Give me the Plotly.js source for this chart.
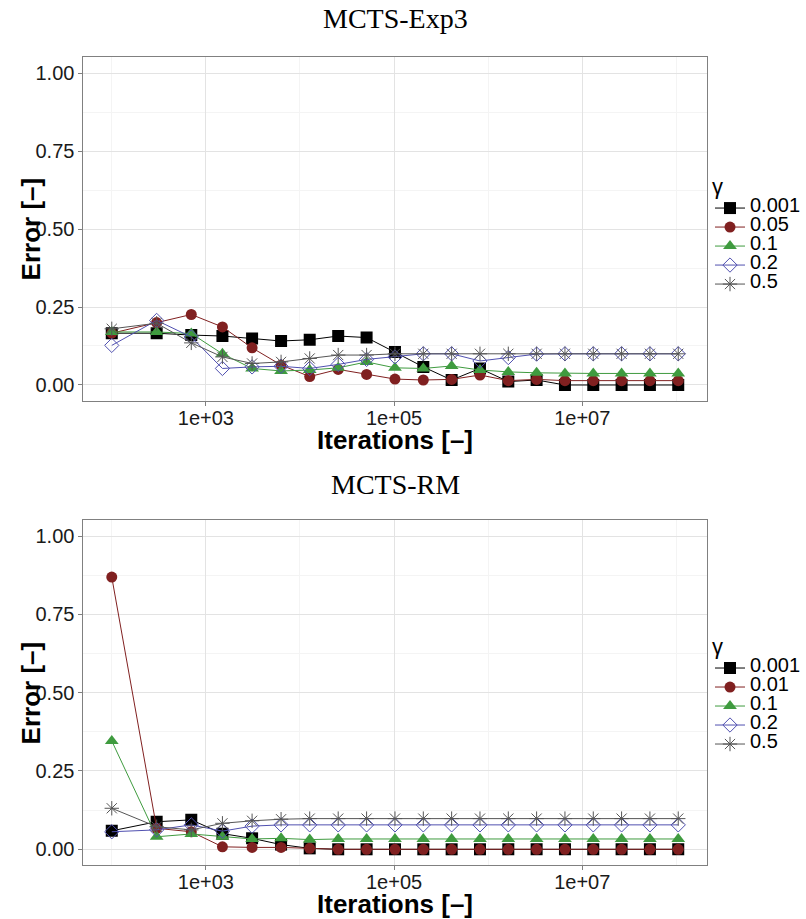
<!DOCTYPE html>
<html>
<head>
<meta charset="utf-8">
<script src="https://cdn.plot.ly/plotly-3.0.1.min.js"></script>
<style>html,body{margin:0;padding:0;background:#fff;}#chart{width:806px;height:919px;}</style>
</head>
<body>
<div id="chart"></div>
<script>
// Iterations (x values, shared by both panels)
const iterations = [100, 300, 700, 1500, 3100, 6300, 12700, 25500, 51100, 102300,
  204700, 409500, 819100, 1638300, 3276700, 6553500, 13107100, 26214300, 52428700, 104857500];

// MCTS-Exp3 panel
const exp3Labels = ["0.001", "0.05", "0.1", "0.2", "0.5"];
const exp3_g0001 = [0.166, 0.166, 0.160, 0.157, 0.149, 0.141, 0.145, 0.157, 0.152, 0.106, 0.058, 0.016, 0.053, 0.011, 0.016, 0.0, 0.0, 0.0, 0.0, 0.0];
const exp3_g005 = [0.166, 0.200, 0.226, 0.186, 0.119, 0.064, 0.027, 0.050, 0.034, 0.019, 0.016, 0.018, 0.032, 0.014, 0.018, 0.014, 0.014, 0.014, 0.014, 0.014];
const exp3_g01 = [0.170, 0.170, 0.165, 0.100, 0.053, 0.045, 0.048, 0.055, 0.074, 0.055, 0.053, 0.061, 0.048, 0.042, 0.039, 0.037, 0.037, 0.037, 0.037, 0.037];
const exp3_g02 = [0.127, 0.207, 0.154, 0.053, 0.058, 0.060, 0.053, 0.066, 0.082, 0.090, 0.100, 0.100, 0.077, 0.088, 0.099, 0.100, 0.100, 0.100, 0.100, 0.100];
const exp3_g05 = [0.180, 0.198, 0.135, 0.090, 0.069, 0.074, 0.085, 0.096, 0.096, 0.100, 0.100, 0.100, 0.100, 0.100, 0.100, 0.100, 0.100, 0.100, 0.100, 0.100];

// MCTS-RM panel
const rmLabels = ["0.001", "0.01", "0.1", "0.2", "0.5"];
const rm_g0001 = [0.059, 0.088, 0.094, 0.050, 0.035, 0.015, 0.003, 0.0, 0.0, 0.0, 0.0, 0.0, 0.0, 0.0, 0.0, 0.0, 0.0, 0.0, 0.0, 0.0];
const rm_g001 = [0.869, 0.067, 0.056, 0.008, 0.006, 0.006, 0.003, 0.0, 0.0, 0.0, 0.0, 0.0, 0.0, 0.0, 0.0, 0.0, 0.0, 0.0, 0.0, 0.0];
const rm_g01 = [0.346, 0.040, 0.049, 0.040, 0.033, 0.035, 0.031, 0.033, 0.033, 0.033, 0.033, 0.033, 0.033, 0.033, 0.033, 0.033, 0.033, 0.033, 0.033, 0.033];
const rm_g02 = [0.056, 0.062, 0.078, 0.058, 0.074, 0.078, 0.078, 0.078, 0.078, 0.078, 0.078, 0.078, 0.078, 0.078, 0.078, 0.078, 0.078, 0.078, 0.078, 0.078];
const rm_g05 = [0.131, 0.072, 0.062, 0.083, 0.091, 0.096, 0.098, 0.098, 0.098, 0.098, 0.098, 0.098, 0.098, 0.098, 0.098, 0.098, 0.098, 0.098, 0.098, 0.098];

const xTickVals = [1e3, 1e5, 1e7];
const xTickText = ["1e+03", "1e+05", "1e+07"];
const yTickVals = [0, 0.25, 0.5, 0.75, 1.0];
const yTickText = ["0.00", "0.25", "0.50", "0.75", "1.00"];

const styles = [
  {color: "#000000", symbol: "square", size: 12, lw: 0},
  {color: "#802020", symbol: "circle", size: 11, lw: 0},
  {color: "#3f9b3f", symbol: "triangle-up", size: 12, lw: 0},
  {color: "#5050b0", symbol: "diamond-open", size: 11, lw: 1},
  {color: "#555555", symbol: "asterisk-open", size: 12, lw: 1}
];

function mk(ys, label, i, xa, ya, leg) {
  const s = styles[i];
  return {
    x: iterations, y: ys, xaxis: xa, yaxis: ya, legend: leg,
    type: "scatter", mode: "lines+markers",
    name: '<span style="font-size:20px">' + label + '</span>',
    line: {color: s.color, width: 1},
    marker: {symbol: s.symbol, size: s.size, color: s.color, line: {color: s.color, width: s.lw}},
    hoverinfo: "x+y"
  };
}

const exp3Series = [exp3_g0001, exp3_g005, exp3_g01, exp3_g02, exp3_g05];
const rmSeries = [rm_g0001, rm_g001, rm_g01, rm_g02, rm_g05];
const data = [];
exp3Series.forEach((ys, i) => data.push(mk(ys, exp3Labels[i], i, "x", "y", "legend")));
rmSeries.forEach((ys, i) => data.push(mk(ys, rmLabels[i], i, "x2", "y2", "legend2")));

const tickFont = {family: "Liberation Sans, Arial, sans-serif", size: 20, color: "#1a1a1a"};
function xaxis(anchor) {
  return {
    type: "log", range: [1.699, 8.322], domain: [0.1055, 0.8933], anchor: anchor,
    tickmode: "array", tickvals: xTickVals, ticktext: xTickText,
    showgrid: true, gridcolor: "#e3e3e3", gridwidth: 1,
    minor: {tickmode: "array", tickvals: [1e2, 1e4, 1e6, 1e8], showgrid: true, gridcolor: "#f4f4f4", ticks: ""},
    showline: true, mirror: true, linecolor: "#808080", linewidth: 1,
    ticks: "outside", ticklen: 4, tickcolor: "#808080", tickfont: tickFont,
    ticklabelstandoff: -5,
    zeroline: false, fixedrange: true
  };
}
function yaxis(anchor, dom) {
  return {
    range: [-0.05, 1.05], domain: dom, anchor: anchor,
    tickmode: "array", tickvals: yTickVals, ticktext: yTickText,
    showgrid: true, gridcolor: "#e3e3e3", gridwidth: 1,
    minor: {tickmode: "array", tickvals: [0.125, 0.375, 0.625, 0.875], showgrid: true, gridcolor: "#f4f4f4", ticks: ""},
    showline: true, mirror: true, linecolor: "#808080", linewidth: 1,
    ticks: "outside", ticklen: 4, tickcolor: "#808080", tickfont: tickFont,
    zeroline: false, fixedrange: true
  };
}

const titleFont = {family: "Liberation Serif, Times New Roman, serif", size: 28, color: "#000"};
const axTitleFont = {family: "Liberation Sans, Arial, sans-serif", size: 26, color: "#000", weight: "bold"};
function ann(text, x, y, font, angle) {
  return {text: text, x: x, y: y, xref: "paper", yref: "paper", xanchor: "center", yanchor: "middle",
          showarrow: false, font: font, textangle: angle || 0};
}

function legendCfg(ytop) {
  return {
    x: 0.898, xanchor: "left", y: ytop, yanchor: "top",
    title: {text: "γ", font: {family: "Liberation Sans, Arial, sans-serif", size: 22, color: "#000"}},
    font: {family: "Liberation Sans, Arial, sans-serif", size: 11, color: "#000"},
    bgcolor: "rgba(0,0,0,0)", borderwidth: 0, itemwidth: 30, tracegroupgap: 0
  };
}

const layout = {
  width: 806, height: 919,
  margin: {l: 0, r: 0, t: 0, b: 0},
  paper_bgcolor: "#ffffff", plot_bgcolor: "#ffffff",
  showlegend: true,
  xaxis: xaxis("y"), yaxis: yaxis("x", [0.5641, 0.9375]),
  xaxis2: xaxis("y2"), yaxis2: yaxis("x2", [0.0588, 0.4337]),
  legend: legendCfg(0.8205),
  legend2: legendCfg(0.320),
  annotations: [
    ann("MCTS-Exp3", 0.4994, 1 - 19 / 919, titleFont),
    ann("MCTS-RM", 0.4994, 1 - 484 / 919, titleFont),
    ann("Iterations [–]", 0.4994, 1 - 440 / 919, axTitleFont),
    ann("Iterations [–]", 0.4994, 1 - 904 / 919, axTitleFont),
    ann("Error [–]", 32 / 806, 1 - 229 / 919, axTitleFont, -90),
    ann("Error [–]", 32 / 806, 1 - 693 / 919, axTitleFont, -90)
  ]
};

Plotly.newPlot("chart", data, layout, {displayModeBar: false, staticPlot: true});
</script>
</body>
</html>
